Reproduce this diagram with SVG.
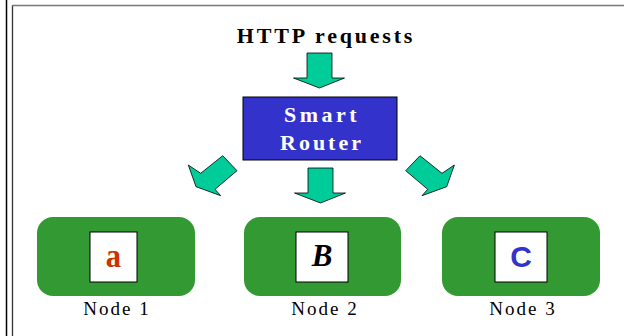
<svg xmlns="http://www.w3.org/2000/svg" width="624" height="336" viewBox="0 0 624 336">
<style>
.serif{font-family:"Liberation Serif","Times New Roman",serif}
.arrow{fill:#00CC99;stroke:#000;stroke-width:0.8;stroke-linejoin:miter}
.node{fill:#339933}
.inner{fill:#fff;stroke:#000;stroke-width:1}
.lbl{font-family:"Liberation Serif",serif;font-size:19px;letter-spacing:2px;fill:#000;text-anchor:middle}
</style>
<rect width="624" height="336" fill="#fff"/>
<g id="frame">
<line x1="6.5" y1="0" x2="6.5" y2="336" stroke="#000" stroke-width="1.5"/>
<line x1="12.5" y1="5" x2="12.5" y2="336" stroke="#333" stroke-width="1.3"/>
<line x1="12" y1="5.5" x2="624" y2="5.5" stroke="#777" stroke-width="1.3"/>
</g>
<g id="title">
<text x="326" y="43" class="serif" font-size="22" font-weight="bold" letter-spacing="2.8" text-anchor="middle">HTTP requests</text>
</g>
<g id="connectors">
<polygon class="arrow" points="307,53 332,53 332,78 344.5,78 319.5,88 293.5,78 307,78"/>
<polygon class="arrow" points="308,168 333,168 333,193 345.5,193 320.5,203 294.5,193 308,193"/>
<polygon class="arrow" points="222.7,155.7 237,170.7 215,189.3 220.7,195.7 196,186.7 188.3,165 200.7,173.3"/>
<polygon class="arrow" points="420,155.7 405.7,170.7 427.7,189.3 422,195.7 446.7,186.7 454.4,165 442,173.3"/>
</g>
<g id="router">
<rect x="243" y="97" width="154" height="63" fill="#3333CC" stroke="#000" stroke-width="1"/>
<text x="322" y="122" class="serif" font-size="22" font-weight="bold" letter-spacing="3.5" fill="#fff" text-anchor="middle">Smart</text>
<text x="322" y="150" class="serif" font-size="22" font-weight="bold" letter-spacing="3" fill="#fff" text-anchor="middle">Router</text>
</g>
<g id="node1">
<rect class="node" x="37" y="217" width="158" height="79" rx="16"/>
<rect class="inner" x="90" y="232" width="47" height="50"/>
<text x="113.5" y="267" class="serif" font-size="34" font-weight="bold" fill="#CC3300" text-anchor="middle" transform="translate(113.5 0) scale(0.9 1) translate(-113.5 0)">a</text>
<text x="117" y="315" class="lbl">Node 1</text>
</g>
<g id="node2">
<rect class="node" x="244" y="217" width="157" height="79" rx="16"/>
<rect class="inner" x="296" y="232" width="52" height="50"/>
<text x="322" y="266" class="serif" font-size="31" font-weight="bold" font-style="italic" fill="#000" text-anchor="middle">B</text>
<text x="325" y="315" class="lbl">Node 2</text>
</g>
<g id="node3">
<rect class="node" x="442" y="217" width="158" height="79" rx="16"/>
<rect class="inner" x="495" y="232" width="52" height="50"/>
<text x="521" y="267" font-family="Liberation Sans,Arial,sans-serif" font-size="30" font-weight="bold" fill="#3333CC" text-anchor="middle">C</text>
<text x="523" y="315" class="lbl">Node 3</text>
</g>
</svg>
